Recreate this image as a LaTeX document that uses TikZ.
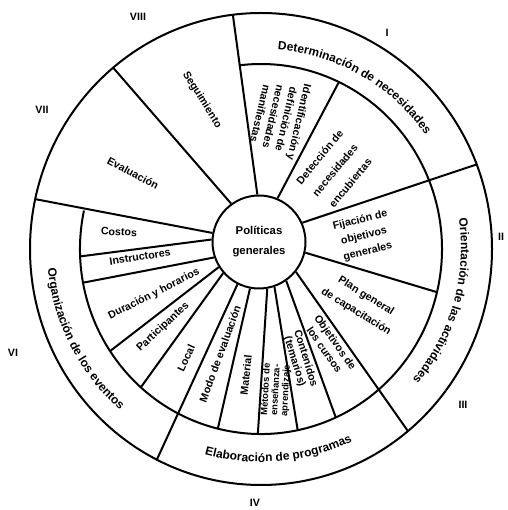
\documentclass[tikz,border=0pt]{standalone}
\usepackage{fontspec}
\setsansfont{Liberation Sans}
\usetikzlibrary{calc,decorations.text}

\begin{document}
\begin{tikzpicture}[x=0.75pt, y=0.75pt, line width=1.5pt,
  lab/.style={font=\sffamily\bfseries\fontsize{8}{10}\selectfont, align=center, inner sep=0pt},
  ringtext/.style={decorate, decoration={text along path, text align=center,
    text={|\sffamily\bfseries\fontsize{9}{10}\selectfont|#1}}}]
% Define common parameters
\def\rox{231}\def\roy{236}
\def\rmx{181}\def\rmy{185}

\useasboundingbox (0,0) rectangle (507,510);
\coordinate (c) at (261,261);

% Outer circle and middle circle (open over VII and VIII)
\draw (c) ellipse [x radius=\rox, y radius=\roy];
\draw ($(c)+({\rmx*cos(168)},{\rmy*sin(168)})$) arc[start angle=168, end angle=457, x radius=\rmx, y radius=\rmy];

% Centre: Politicas generales
\node[lab, draw, circle, minimum size=69.75pt, font=\sffamily\bfseries\fontsize{8.5}{15}\selectfont] (pol) at (259,268) {Políticas\\generales};

% Spokes from the centre to the outer circle
\draw (pol.92) -- ($(c)+({\rox*cos(97)},{\roy*sin(97)})$);
\draw (pol.24) -- ($(c)+({\rox*cos(21)},{\roy*sin(21)})$);
\draw (pol.-39) -- ($(c)+({\rox*cos(-50.5)},{\roy*sin(-50.5)})$);
\draw (pol.-117) -- ($(c)+({\rox*cos(-116.8)},{\roy*sin(-116.8)})$);
\draw (pol.169) -- ($(c)+({\rox*cos(167.8)},{\roy*sin(167.8)})$);
\draw (pol.126.6) -- ($(c)+({\rox*cos(129.8)},{\roy*sin(129.8)})$);

% Spokes from the centre to the middle circle
\draw (pol.67) -- ($(c)+({\rmx*cos(64.5)},{\rmy*sin(64.5)})$);
\draw (pol.-13) -- ($(c)+({\rmx*cos(-13.5)},{\rmy*sin(-13.5)})$);
\draw (pol.-55) -- ($(c)+({\rmx*cos(-65.6)},{\rmy*sin(-65.6)})$);
\draw (pol.-71) -- ($(c)+({\rmx*cos(-78.3)},{\rmy*sin(-78.3)})$);
\draw (pol.-80.5) -- ($(c)+({\rmx*cos(-91)},{\rmy*sin(-91)})$);
\draw (pol.-101) -- ($(c)+({\rmx*cos(-103.8)},{\rmy*sin(-103.8)})$);
\draw (pol.-139) -- ($(c)+({\rmx*cos(-131.6)},{\rmy*sin(-131.6)})$);
\draw (pol.-148) -- ($(c)+({\rmx*cos(-146.5)},{\rmy*sin(-146.5)})$);
\draw (pol.-161) -- ($(c)+({\rmx*cos(-169.5)},{\rmy*sin(-169.5)})$);
\draw (pol.177.5) -- ($(c)+({\rmx*cos(182.3)},{\rmy*sin(182.3)})$);

% Ring texts
\path[ringtext={Determinación de necesidades}] ($(c)+(100:200)$) arc[start angle=100, end angle=20, radius=200];
\path[ringtext={Orientación de las actividades}] ($(c)+(24:200)$) arc[start angle=24, end angle=-56, radius=200];
\path[ringtext={Elaboración de programas}] ($(c)+(-125:213)$) arc[start angle=-125, end angle=-45, radius=213];
\path[ringtext={Organización de los eventos}] ($(c)+(167:214)$) arc[start angle=167, end angle=247, radius=214];

% Sector texts
\node[lab, rotate=-58] (seg) at (202,410) {Seguimiento};
\node[lab, rotate=-28] (eva) at (133,337) {Evaluación};
\node[lab, rotate=-3] (cos) at (119,278) {Costos};
\node[lab, rotate=9] (ins) at (140,253) {Instructores};
\node[lab, rotate=27] (dur) at (154,216) {Duración y horarios};
\node[lab, rotate=43] (par) at (163,183) {Participantes};
\node[lab, rotate=65] (loc) at (186,152) {Local};
\node[lab, rotate=70] (mod) at (220,156) {Modo de evaluación};
\node[lab, rotate=84] (mat) at (246,135) {Material};
\node[lab, rotate=87, font=\sffamily\bfseries\fontsize{7}{7.5}\selectfont] (met) at (276,120) {Métodos de\\enseñanza-\\aprendizaje};
\node[lab, rotate=-73, font=\sffamily\bfseries\fontsize{8}{8.5}\selectfont] (con) at (300,150) {Contenidos\\(temarios)};
\node[lab, rotate=-55] (obj) at (330,164) {Objetivos de\\los cursos};
\node[lab, rotate=-32, font=\sffamily\bfseries\fontsize{8}{14}\selectfont] (pla) at (361,206) {Plan general\\de capacitación};
\node[lab, rotate=14, font=\sffamily\bfseries\fontsize{8}{12}\selectfont] (fij) at (364,274) {Fijación de\\objetivos\\generales};
\node[lab, rotate=50, font=\sffamily\bfseries\fontsize{8}{15}\selectfont] (det) at (335,340) {Detección de\\necesidades\\encubiertas};
\node[lab, rotate=-103] (ide) at (280,392) {Identificación y\\definición de\\necesidades\\manifiestas};

% Phase numbers
\node[lab] (n8) at (138,493) {VIII};
\node[lab] (n1) at (387,477) {I};
\node[lab] (n7) at (42,400) {VII};
\node[lab] (n2) at (501,273) {II};
\node[lab] (n3) at (463,105) {III};
\node[lab] (n4) at (255,7) {IV};
\node[lab] (n6) at (13,157) {VI};

\end{tikzpicture}
\end{document}
